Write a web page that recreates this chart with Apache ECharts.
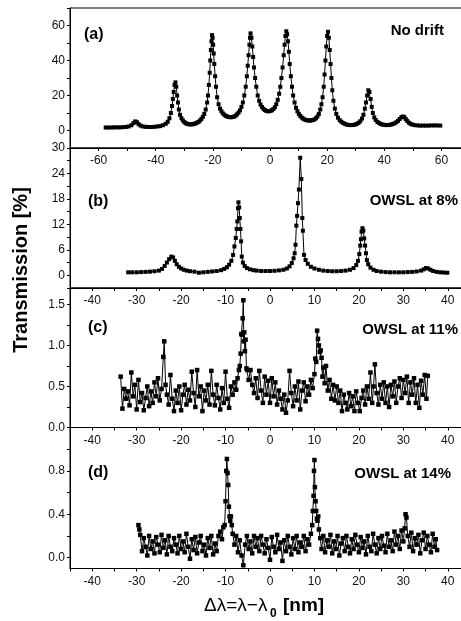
<!DOCTYPE html>
<html>
<head>
<meta charset="utf-8">
<script src="https://cdn.jsdelivr.net/npm/echarts@6/dist/echarts.min.js"></script>
<style>
  html, body { margin: 0; padding: 0; background: #fff; }
  #main { width: 461px; height: 621px; }
</style>
</head>
<body>
<div id="main"></div>
<script>
// (a) no drift  [delta lambda nm, transmission %]
const ptsA = [
  [-57.5,1.7],[-56.5,1.7],[-55.5,1.7],[-54.5,1.8],[-53.5,1.8],[-52.5,1.8],[-51.5,1.9],[-50.5,2.0],[-49.5,2.3],[-48.5,3.0],
  [-47.8,4.2],[-47.2,5.2],[-46.6,4.8],[-46,3.6],[-45.3,2.8],[-44.5,2.3],[-43.5,2.1],[-42.5,2.0],[-41.5,2.0],[-40.5,2.1],
  [-39.5,2.3],[-38.5,2.5],[-37.5,3.0],[-36.5,3.8],[-35.8,5.0],[-35.2,7.0],[-34.7,10],[-34.3,14],[-34,18],[-33.7,22],
  [-33.4,26],[-33.1,27.5],[-32.8,25],[-32.5,20],[-32.2,16],[-31.9,12],[-31.5,9],[-31,7],[-30.5,5.8],[-30,4.8],
  [-29.5,4.2],[-29,3.8],[-28.5,3.6],[-28,3.5],[-27.5,3.5],[-27,3.6],[-26.5,3.8],[-26,4.1],[-25.5,4.5],[-25,5.0],
  [-24.5,5.7],[-24,6.6],[-23.5,7.8],[-23,9.5],[-22.5,12],[-22,16],[-21.7,20],[-21.4,26],[-21.1,33],[-20.9,40],
  [-20.7,46],[-20.5,51],[-20.3,54.5],[-20.1,53],[-19.9,49],[-19.7,44],[-19.5,38],[-19.2,31],[-18.9,25],[-18.5,19],
  [-18,15],[-17.5,12.5],[-17,11],[-16.5,9.8],[-16,9],[-15.5,8.4],[-15,8],[-14.5,7.7],[-14,7.6],[-13.5,7.6],
  [-13,7.7],[-12.5,8],[-12,8.5],[-11.5,9.3],[-11,10.3],[-10.5,11.5],[-10,13.5],[-9.5,16],[-9,20],[-8.5,25],
  [-8.1,31],[-7.8,37],[-7.5,43],[-7.2,49],[-7,53],[-6.8,55.5],[-6.5,53],[-6.2,48],[-5.9,42],[-5.6,36],
  [-5.2,30],[-4.8,25],[-4.3,20],[-3.8,17],[-3.3,14.8],[-2.8,13.4],[-2.3,12.4],[-1.8,11.7],[-1.3,11.2],[-0.8,11],
  [-0.3,11],[0.2,11.2],[0.7,11.6],[1.2,12.3],[1.7,13.3],[2.2,15],[2.7,17.5],[3.2,21],[3.6,25],[4,30],
  [4.4,36],[4.8,43],[5.1,49],[5.4,54],[5.7,56.7],[6,55],[6.3,51],[6.6,45],[6.9,38],[7.3,31],
  [7.7,25],[8.1,20],[8.6,16],[9.1,13],[9.6,11],[10.1,9.5],[10.6,8.3],[11.1,7.4],[11.6,6.8],[12.1,6.3],
  [12.6,6],[13.1,5.8],[13.6,5.7],[14.1,5.7],[14.6,5.8],[15.1,6],[15.6,6.4],[16.1,7],[16.6,8],[17.1,9.5],
  [17.6,12],[18,15],[18.4,19],[18.8,25],[19.1,32],[19.4,40],[19.7,48],[20,54],[20.3,56.4],[20.6,53],
  [20.9,46],[21.2,38],[21.5,30],[21.8,23],[22.2,17],[22.7,12.5],[23.2,9.5],[23.8,7.3],[24.4,5.9],[25,5],
  [25.6,4.3],[26.2,3.8],[26.8,3.4],[27.4,3.2],[28,3.1],[28.6,3.1],[29.2,3.2],[29.8,3.4],[30.4,3.8],[31,4.4],
  [31.6,5.3],[32.2,6.8],[32.7,9],[33.2,12.5],[33.6,16],[34,20],[34.4,23],[34.8,22],[35.2,18],[35.6,13.5],
  [36,10],[36.5,7.5],[37,6],[37.6,4.9],[38.2,4.2],[38.8,3.7],[39.4,3.4],[40,3.2],[40.6,3.1],[41.2,3.1],
  [41.8,3.2],[42.4,3.4],[43,3.7],[43.6,4.1],[44.2,4.7],[44.8,5.5],[45.4,6.6],[46,7.6],[46.5,8],[47,7.6],
  [47.5,6.6],[48,5.5],[48.6,4.5],[49.2,3.8],[49.8,3.4],[50.5,3.1],[51.5,2.9],[52.5,2.8],[53.5,2.8],[54.5,2.8],
  [55.5,2.8],[56.5,2.9],[57.5,2.9],[58.5,2.9],[59.6,2.8]
]

// (b) OWSL at 8%
const ptsB = [
  [-31.9,0.7],[-31,0.7],[-30,0.7],[-29,0.75],[-28,0.8],[-27,0.85],[-26,0.95],[-25,1.1],[-24.3,1.5],[-23.7,2.2],
  [-23.2,3.0],[-22.7,3.8],[-22.2,4.4],[-21.8,4.2],[-21.4,3.4],[-21,2.6],[-20.5,2.0],[-20,1.6],[-19.4,1.3],[-18.7,1.1],
  [-18,0.95],[-17,0.85],[-16,0.6],[-15,0.7],[-14,0.8],[-13,0.9],[-12,1.0],[-11,1.2],[-10.3,1.5],[-9.7,1.9],
  [-9.2,2.5],[-8.7,3.4],[-8.3,4.8],[-8,6.8],[-7.7,8.8],[-7.5,10.9],[-7.35,12.7],[-7.2,15.8],[-7.1,17.2],[-6.95,16],
  [-6.8,13.5],[-6.65,10.9],[-6.5,8],[-6.35,4.4],[-6.1,3.0],[-5.7,2.2],[-5.2,1.7],[-4.5,1.4],[-3.7,1.2],[-3,1.1],
  [-2,1.0],[-1,1.0],[0,1.0],[1,1.05],[2,1.15],[3,1.3],[3.8,1.6],[4.4,2.1],[4.9,2.9],[5.3,4.0],
  [5.55,5.2],[5.75,7.2],[5.93,11.7],[6.1,14],[6.3,17],[6.5,20.2],[6.8,27.7],[7.05,22.7],[7.27,13.5],[7.4,10.5],
  [7.65,4.8],[8,3.6],[8.5,2.7],[9.2,2.0],[10,1.6],[11,1.3],[12,1.1],[13,1.0],[14,0.95],[15,0.95],
  [16,1.0],[17,1.1],[18,1.3],[18.8,1.7],[19.4,2.4],[19.8,3.4],[20.1,5.0],[20.3,7.0],[20.45,8.5],[20.6,10.3],
  [20.8,11.1],[21,10.5],[21.2,8.7],[21.4,7.0],[21.6,5.2],[21.8,3.6],[22.1,2.6],[22.6,1.8],[23.3,1.3],[24,1.0],
  [25,0.85],[26,0.75],[27,0.7],[28,0.7],[29,0.7],[30,0.7],[31,0.75],[32,0.8],[33,0.9],[34,1.1],
  [34.6,1.4],[35.1,1.7],[35.6,1.6],[36.1,1.3],[36.7,1.0],[37.5,0.8],[38.3,0.7],[39.1,0.65],[39.9,0.6]
]

// (c) OWSL at 11%
const ptsC = [
  [-33.6,0.62],[-33.2,0.23],[-32.8,0.47],[-32.4,0.35],[-32,0.44],[-31.6,0.27],[-31.2,0.67],[-30.8,0.38],[-30.4,0.52],[-30,0.22],
  [-29.6,0.58],[-29.2,0.31],[-28.8,0.42],[-28.4,0.21],[-28,0.36],[-27.6,0.5],[-27.2,0.26],[-26.8,0.44],[-26.4,0.3],[-26,0.55],
  [-25.6,0.38],[-25.2,0.6],[-24.8,0.33],[-24.4,0.47],[-24,0.86],[-23.8,1.05],[-23.5,0.52],[-23.2,0.4],[-22.8,0.28],[-22.4,0.64],
  [-22,0.35],[-21.6,0.2],[-21.2,0.45],[-20.8,0.3],[-20.4,0.5],[-20,0.21],[-19.6,0.4],[-19.2,0.52],[-18.8,0.28],[-18.4,0.46],
  [-18,0.33],[-17.6,0.68],[-17.2,0.42],[-16.8,0.25],[-16.4,0.7],[-16,0.38],[-15.6,0.5],[-15.2,0.2],[-14.8,0.45],[-14.4,0.33],
  [-14,0.52],[-13.6,0.28],[-13.2,0.69],[-12.8,0.4],[-12.4,0.27],[-12,0.52],[-11.6,0.36],[-11.2,0.22],[-10.8,0.48],[-10.4,0.3],
  [-10,0.68],[-9.6,0.35],[-9.2,0.24],[-8.8,0.5],[-8.4,0.4],[-8,0.55],[-7.6,0.46],[-7.3,0.6],[-7,0.7],[-6.8,0.75],
  [-6.6,0.9],[-6.45,1.14],[-6.3,1.13],[-6.15,1.33],[-6,1.55],[-5.9,1.05],[-5.8,1.16],[-5.65,0.93],[-5.5,1.07],[-5.3,0.72],
  [-5.1,0.7],[-4.8,0.58],[-4.4,0.7],[-4,0.52],[-3.6,0.42],[-3.2,0.6],[-2.8,0.36],[-2.4,0.69],[-2,0.45],[-1.6,0.3],
  [-1.2,0.62],[-0.8,0.4],[-0.4,0.57],[0,0.3],[0.4,0.6],[0.8,0.38],[1.2,0.55],[1.6,0.28],[2,0.45],[2.4,0.35],
  [2.8,0.22],[3.2,0.4],[3.6,0.18],[4,0.33],[4.4,0.69],[4.8,0.42],[5.2,0.26],[5.6,0.5],[6,0.33],[6.4,0.56],
  [6.8,0.22],[7.2,0.45],[7.6,0.55],[8,0.32],[8.4,0.5],[8.8,0.4],[9.2,0.58],[9.6,0.48],[10,0.65],[10.2,0.84],
  [10.4,0.8],[10.6,1.18],[10.8,1.08],[11,1.0],[11.2,0.92],[11.4,0.94],[11.6,0.85],[11.8,0.62],[12,0.73],[12.3,0.54],
  [12.6,0.75],[13,0.45],[13.4,0.58],[13.8,0.35],[14.2,0.52],[14.6,0.33],[15,0.5],[15.4,0.3],[15.8,0.45],[16.2,0.2],
  [16.6,0.4],[17,0.3],[17.4,0.22],[17.8,0.42],[18.2,0.26],[18.6,0.38],[19,0.2],[19.4,0.44],[19.8,0.3],[20.2,0.2],
  [20.6,0.36],[21,0.45],[21.4,0.28],[21.8,0.5],[22.2,0.35],[22.6,0.67],[23,0.3],[23.3,0.5],[23.6,0.77],[24,0.42],
  [24.4,0.28],[24.8,0.52],[25.2,0.35],[25.6,0.55],[26,0.3],[26.4,0.5],[26.8,0.25],[27.2,0.52],[27.6,0.38],[28,0.56],
  [28.4,0.3],[28.8,0.5],[29.2,0.6],[29.6,0.36],[30,0.58],[30.4,0.42],[30.8,0.62],[31.2,0.3],[31.6,0.55],[32,0.4],
  [32.4,0.6],[32.8,0.3],[33.2,0.52],[33.6,0.24],[34,0.57],[34.4,0.4],[34.8,0.64],[35.2,0.35],[35.5,0.63]
]

// (d) OWSL at 14%
const ptsD = [
  [-29.6,0.3],[-29.4,0.26],[-29.2,0.21],[-28.8,0.06],[-28.4,0.18],[-28,0.1],[-27.6,0.02],[-27.2,0.2],[-26.8,0.08],[-26.4,0.15],
  [-26,0.04],[-25.6,0.19],[-25.2,0.12],[-24.8,0.05],[-24.4,0.21],[-24,0.09],[-23.6,0.16],[-23.2,0.03],[-22.8,0.2],[-22.4,0.1],
  [-22,0.06],[-21.6,0.18],[-21.2,0.12],[-20.8,0.04],[-20.4,0.2],[-20,0.08],[-19.6,0.15],[-19.2,0.05],[-18.8,0.22],[-18.4,0.1],
  [-18,-0.01],[-17.6,0.17],[-17.2,0.07],[-16.8,0.19],[-16.4,0.04],[-16,0.14],[-15.6,0.2],[-15.2,0.06],[-14.8,0.12],[-14.4,0.02],
  [-14,0.18],[-13.6,0.09],[-13.2,0.2],[-12.8,0.03],[-12.4,0.13],[-12,0.06],[-11.6,0.2],[-11.2,0.24],[-10.8,0.17],[-10.5,0.28],
  [-10.2,0.3],[-10,0.52],[-9.85,0.8],[-9.7,0.91],[-9.55,0.78],[-9.4,0.67],[-9.25,0.47],[-9.1,0.38],[-8.95,0.34],[-8.8,0.38],
  [-8.6,0.3],[-8.4,0.22],[-8,0.12],[-7.6,0.2],[-7.2,0.05],[-6.8,0.16],[-6.4,0.02],[-6,-0.07],[-5.6,0.12],[-5.2,0.2],
  [-4.8,0.08],[-4.4,0.15],[-4,0.04],[-3.6,0.2],[-3.2,0.1],[-2.8,0.18],[-2.4,0.06],[-2,0.2],[-1.6,0.12],[-1.2,0.04],
  [-0.8,0.17],[-0.4,0.09],[0,-0.02],[0.4,0.19],[0.8,0.1],[1.2,0.05],[1.6,0.21],[2,0.08],[2.4,0.14],[2.8,-0.03],
  [3.2,0.16],[3.6,0.06],[4,0.2],[4.4,0.1],[4.8,0.03],[5.2,0.18],[5.6,0.08],[6,0.2],[6.4,0.05],[6.8,0.14],
  [7.2,0.1],[7.6,0.2],[8,0.06],[8.4,0.17],[8.8,0.12],[9.2,0.22],[9.5,0.3],[9.65,0.43],[9.8,0.57],[9.9,0.8],
  [10,0.9],[10.1,0.65],[10.25,0.52],[10.4,0.43],[10.55,0.36],[10.7,0.34],[10.85,0.38],[11,0.26],[11.3,0.18],[11.6,0.08],
  [12,0.2],[12.4,0.05],[12.8,0.16],[13.2,0.1],[13.6,0.21],[14,0.04],[14.4,0.15],[14.8,0.08],[15.2,0.2],[15.6,0.02],
  [16,0.13],[16.4,0.18],[16.8,0.06],[17.2,0.2],[17.6,0.1],[18,0.04],[18.4,0.17],[18.8,0.08],[19.2,0.21],[19.6,0.12],
  [20,0.05],[20.4,0.19],[20.8,0.09],[21.2,0.15],[21.6,0.03],[22,0.2],[22.4,0.1],[22.8,0.06],[23.2,0.22],[23.6,0.12],
  [24,0.04],[24.4,0.18],[24.8,0.08],[25.2,0.2],[25.6,0.11],[26,0.05],[26.4,0.22],[26.8,0.1],[27.2,0.16],[27.6,0.06],
  [28,0.24],[28.4,0.12],[28.8,0.2],[29.2,0.08],[29.6,0.25],[30,0.15],[30.3,0.27],[30.5,0.4],[30.7,0.37],[31,0.2],
  [31.4,0.1],[31.8,0.23],[32.2,0.06],[32.6,0.18],[33,0.12],[33.4,0.21],[33.8,0.04],[34.2,0.16],[34.6,0.23],[35,0.08],
  [35.4,0.2],[35.8,0.12],[36.2,0.05],[36.6,0.22],[37,0.1],[37.3,0.17],[37.6,0.07]
]

// tick positions / labels
const xTicksA = [-70, -60, -50, -40, -30, -20, -10, 0, 10, 20, 30, 40, 50, 60, 70]
const xLabelsA = [-60, -40, -20, 0, 20, 40, 60]
const xTicksBCD = [-45, -40, -35, -30, -25, -20, -15, -10, -5, 0, 5, 10, 15, 20, 25, 30, 35, 40, 45]
const xLabelsBCD = [-40, -30, -20, -10, 0, 10, 20, 30, 40]
const yTicksA = [-10, 0, 10, 20, 30, 40, 50, 60, 70]
const yLabelsA = [0, 20, 40, 60]
const yTicksB = [-3, 0, 3, 6, 9, 12, 15, 18, 21, 24, 27, 30]
const yLabelsB = [0, 6, 12, 18, 24, 30]
const yTicksC = [0, 0.25, 0.5, 0.75, 1.0, 1.25, 1.5]
const yLabelsC = [0, 0.5, 1.0, 1.5]
const yTicksD = [0, 0.2, 0.4, 0.6, 0.8, 1.0]
const yLabelsD = [0, 0.4, 0.8]

const panelTags = ['(a)', '(b)', '(c)', '(d)']
const panelNames = ['No drift', 'OWSL at 8%', 'OWSL at 11%', 'OWSL at 14%']

const FONT = 'Liberation Sans, Arial, sans-serif'

const myChart = echarts.init(document.getElementById('main'))

const panels = [
  { top: 8, height: 140, xr: [-70, 70], yr: [-10, 70], xt: xTicksA, xl: xLabelsA, yt: yTicksA, yl: yLabelsA, dec: 0, data: ptsA, sym: 4 },
  { top: 148, height: 140, xr: [-45, 45], yr: [-3, 30], xt: xTicksBCD, xl: xLabelsBCD, yt: yTicksB, yl: yLabelsB, dec: 0, data: ptsB, sym: 4 },
  { top: 288, height: 139.5, xr: [-45, 45], yr: [0, 1.7], xt: xTicksBCD, xl: xLabelsBCD, yt: yTicksC, yl: yLabelsC, dec: 1, data: ptsC, sym: 4.5 },
  { top: 427.5, height: 141, xr: [-45, 45], yr: [-0.1, 1.2], xt: xTicksBCD, xl: xLabelsBCD, yt: yTicksD, yl: yLabelsD, dec: 1, data: ptsD, sym: 4.5 }
]

const grid = []
const xAxis = []
const yAxis = []
const series = []
panels.forEach((p, i) => {
  // the plot boxes run past the right edge of the picture (cropped figure)
  grid.push({
    left: 70,
    top: p.top,
    width: 400,
    height: p.height,
    outerBoundsMode: 'none',
    containLabel: false,
    show: true,
    borderColor: '#000',
    borderWidth: 1,
    backgroundColor: 'transparent'
  })
  xAxis.push({
    type: 'value',
    gridIndex: i,
    min: p.xr[0],
    max: p.xr[1],
    axisLine: { show: true, onZero: false, lineStyle: { color: '#000', width: 1 } },
    axisTick: { show: true, inside: false, length: 3, customValues: p.xt, lineStyle: { color: '#000' } },
    axisLabel: {
      customValues: p.xl,
      margin: 7,
      fontSize: 12,
      fontFamily: FONT,
      color: '#111',
      hideOverlap: false
    },
    splitLine: { show: false }
  })
  yAxis.push({
    type: 'value',
    gridIndex: i,
    min: p.yr[0],
    max: p.yr[1],
    axisLine: { show: true, onZero: false, lineStyle: { color: '#000', width: 1 } },
    axisTick: { show: true, inside: false, length: 3, customValues: p.yt, lineStyle: { color: '#000' } },
    axisLabel: {
      customValues: p.yl,
      margin: 5,
      fontSize: 12,
      fontFamily: FONT,
      color: '#111',
      formatter: (v) => Number(v).toFixed(p.dec)
    },
    splitLine: { show: false }
  })
  series.push({
    type: 'line',
    xAxisIndex: i,
    yAxisIndex: i,
    data: p.data,
    symbol: 'rect',
    symbolSize: p.sym,
    showSymbol: true,
    clip: true,
    itemStyle: { color: '#000' },
    lineStyle: { color: '#000', width: 1 },
    emphasis: { disabled: true }
  })
})

// panel tags and names
const tagPos = [[84, 35], [88, 202], [88, 328], [88, 473]]
const namePos = [[444, 31], [458, 201], [458, 330], [451, 474]]
const graphic = []
panels.forEach((p, i) => {
  graphic.push({
    type: 'text',
    x: tagPos[i][0],
    y: tagPos[i][1],
    style: { text: panelTags[i], font: 'bold 16px ' + FONT, fill: '#000', align: 'left', verticalAlign: 'middle', textAlign: 'left', textVerticalAlign: 'middle' }
  })
  graphic.push({
    type: 'text',
    x: namePos[i][0],
    y: namePos[i][1],
    style: { text: panelNames[i], font: 'bold 15px ' + FONT, fill: '#000', align: 'right', verticalAlign: 'middle', textAlign: 'right', textVerticalAlign: 'middle' }
  })
})
// y title
graphic.push({
  type: 'text',
  x: 21,
  y: 270,
  rotation: Math.PI / 2,
  style: { text: 'Transmission [%]', font: 'bold 20px ' + FONT, fill: '#000', align: 'center', verticalAlign: 'middle', textAlign: 'center', textVerticalAlign: 'middle' }
})
// x title
graphic.push({
  type: 'text',
  x: 204,
  y: 606,
  style: { text: 'Δλ=λ−λ', font: '19px ' + FONT, fill: '#000', align: 'left', verticalAlign: 'middle', textAlign: 'left', textVerticalAlign: 'middle' }
})
graphic.push({
  type: 'text',
  x: 270,
  y: 614,
  style: { text: '0', font: 'bold 12px ' + FONT, fill: '#000', align: 'left', verticalAlign: 'middle', textAlign: 'left', textVerticalAlign: 'middle' }
})
graphic.push({
  type: 'text',
  x: 283,
  y: 606,
  style: { text: '[nm]', font: 'bold 19px ' + FONT, fill: '#000', align: 'left', verticalAlign: 'middle', textAlign: 'left', textVerticalAlign: 'middle' }
})

const option = {
  animation: false,
  backgroundColor: '#fff',
  grid: grid,
  xAxis: xAxis,
  yAxis: yAxis,
  series: series,
  graphic: graphic
}
myChart.setOption(option)
</script>
</body>
</html>
